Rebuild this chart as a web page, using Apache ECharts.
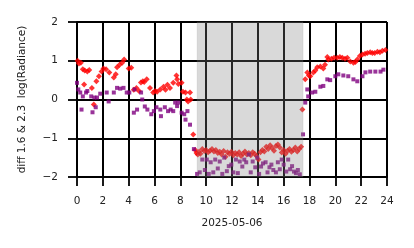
<!DOCTYPE html>
<html><head><meta charset="utf-8">
<script src="https://cdn.jsdelivr.net/npm/echarts@6/dist/echarts.min.js"></script>
<style>html,body{margin:0;padding:0;background:#fff}#c{width:414px;height:248px}</style>
</head><body><div id="c"></div>
<script>
const xTicks = [0,2,4,6,8,10,12,14,16,18,20,22,24];
const yTicks = [-2,-1,0,1,2];
const xLabel = "2025-05-06";
const yLabel = "diff 1.6 & 2.3  log(Radiance)";
const shadeStart = 9.3, shadeEnd = 17.5;

const redHours = [0.05,0.15,0.3,0.45,0.6,0.55,0.8,0.95,1.15,1.3,1.5,1.7,1.9,2.05,2.25,2.5,2.85,3.0,3.1,3.3,3.5,3.65,4.0,4.2,
 4.4,4.6,4.8,4.95,5.1,5.2,5.4,5.65,5.9,6.05,6.2,6.45,6.7,6.85,7.0,7.2,7.45,7.7,7.75,7.85,8.1,8.2,8.4,8.5,8.6,8.75,8.8,9.0,
 9.15,9.25,9.35,9.45,9.55,9.7,9.85,10.0,10.15,10.3,10.45,10.6,10.75,10.9,11.05,11.2,11.35,11.5,11.65,11.8,11.95,12.1,12.25,12.4,12.55,12.7,12.85,13.0,13.15,13.3,13.45,13.6,13.75,13.9,14.05,14.2,14.35,14.5,14.65,14.8,14.95,15.1,15.25,15.4,15.55,15.7,15.85,16.0,16.15,16.3,16.45,16.6,16.75,16.9,17.05,17.2,17.35,
 17.45,17.67,17.83,17.95,18.06,18.3,18.45,18.6,18.84,19.07,19.2,19.38,19.46,19.7,19.9,20.15,20.35,20.54,20.75,20.93,21.16,21.4,21.55,21.7,21.9,22.1,22.3,22.48,22.7,22.87,23.05,23.26,23.45,23.64,23.88];
const redValues = [1.00,0.93,0.95,0.78,0.75,0.39,0.72,0.76,0.30,-0.13,0.47,0.60,0.72,0.80,0.78,0.70,0.57,0.65,0.83,0.90,0.95,1.03,0.80,0.82,
 0.25,0.30,0.22,0.44,0.47,0.45,0.52,0.30,0.18,0.22,0.20,0.26,0.33,0.25,0.38,0.30,0.43,0.62,0.52,0.40,0.43,0.20,0.18,0.00,-0.05,0.18,0.00,-0.90,
 -1.30,-1.38,-1.42,-1.35,-1.40,-1.28,-1.33,-1.30,-1.36,-1.32,-1.28,-1.34,-1.30,-1.38,-1.35,-1.42,-1.33,-1.48,-1.36,-1.40,-1.35,-1.44,-1.38,-1.42,-1.36,-1.46,-1.40,-1.34,-1.42,-1.38,-1.44,-1.36,-1.40,-1.46,-1.55,-1.36,-1.30,-1.34,-1.22,-1.28,-1.18,-1.25,-1.32,-1.20,-1.16,-1.24,-1.37,-1.30,-1.40,-1.32,-1.28,-1.35,-1.30,-1.24,-1.34,-1.28,-1.22,
 -0.26,0.52,0.70,0.62,0.60,0.70,0.75,0.83,0.85,0.80,0.90,1.10,1.03,1.05,1.08,1.08,1.10,1.08,1.05,1.08,0.98,0.95,0.97,1.03,1.12,1.16,1.18,1.20,1.22,1.20,1.20,1.23,1.22,1.26,1.28];

const purpleHours = [0.0,0.1,0.25,0.35,0.45,0.7,0.8,1.1,1.2,1.35,1.45,1.55,1.8,2.3,2.45,2.85,3.1,3.35,3.6,3.85,4.05,4.4,4.45,4.65,4.96,
 5.05,5.25,5.45,5.75,5.95,6.15,6.45,6.5,6.8,7.05,7.25,7.45,7.6,7.75,7.85,8.1,8.3,8.4,8.55,8.75,9.05,
 9.3,9.5,9.7,9.9,10.05,10.2,10.35,10.55,10.7,10.9,11.05,11.25,11.4,11.6,11.75,11.95,12.1,12.3,12.45,12.6,12.8,12.95,13.1,13.3,13.45,13.6,13.8,13.95,14.1,14.25,14.4,14.6,14.75,14.9,15.05,15.2,15.4,15.55,15.7,15.85,16.0,16.2,16.35,16.5,16.65,16.8,16.95,17.1,17.25,
 17.5,17.67,17.83,17.9,18.2,18.45,18.84,19.07,19.38,19.6,20.0,20.23,20.62,21.0,21.4,21.7,22.1,22.33,22.7,23.1,23.5,23.72];
const purpleValues = [0.43,0.26,0.18,-0.26,0.08,0.18,0.22,0.08,-0.33,0.05,-0.20,0.05,0.15,0.18,-0.05,0.18,0.30,0.28,0.30,0.18,0.18,-0.34,0.26,-0.26,0.18,
 0.00,-0.18,-0.26,-0.38,-0.30,-0.20,-0.26,-0.43,-0.20,-0.30,-0.26,-0.30,-0.08,-0.17,-0.08,-0.34,-0.38,-0.52,-0.30,-0.65,-1.28,
 -1.92,-1.88,-1.55,-1.82,-1.55,-1.92,-1.62,-1.88,-1.55,-1.78,-1.60,-1.92,-1.50,-1.85,-1.72,-1.68,-1.88,-1.55,-1.90,-1.60,-1.73,-1.55,-1.62,-1.42,-1.88,-1.60,-1.75,-1.50,-1.92,-1.73,-1.65,-1.62,-1.88,-1.75,-1.68,-1.82,-1.88,-1.62,-1.80,-1.55,-1.68,-1.86,-1.55,-1.80,-1.72,-1.86,-1.90,-1.82,-1.93,
 -0.90,-0.08,0.26,0.08,0.18,0.20,0.33,0.35,0.52,0.50,0.60,0.65,0.62,0.60,0.52,0.47,0.60,0.70,0.72,0.72,0.72,0.77];

const zip = (a,b) => a.map((v,i)=>[v,b[i]]);
const font = 'DejaVu Sans';
const chart = echarts.init(document.getElementById('c'), null, {renderer:'canvas'});
chart.setOption({
  animation:false,
  grid:{left:77,right:27,top:22,bottom:71,containLabel:false},
  xAxis:{type:'value',min:0,max:24,interval:2,
    name:xLabel,nameLocation:'middle',nameGap:41,
    nameTextStyle:{fontFamily:font,fontSize:10.5,color:'#222'},
    axisLine:{show:true,onZero:false,lineStyle:{color:'#000',width:1.8}},
    axisTick:{show:true,inside:false,length:9,lineStyle:{color:'#000',width:1.8}},
    axisLabel:{fontFamily:font,fontSize:10.5,color:'#222',margin:19},
    splitLine:{show:true,lineStyle:{color:'#000',width:2}}},
  yAxis:{type:'value',min:-2,max:2,interval:1,
    name:yLabel,nameLocation:'middle',nameGap:49,nameRotate:90,
    nameTextStyle:{fontFamily:font,fontSize:10.5,color:'#222'},
    axisLine:{show:true,onZero:false,lineStyle:{color:'#000',width:1.8}},
    axisTick:{show:true,inside:false,length:9,lineStyle:{color:'#000',width:1.8}},
    axisLabel:{fontFamily:font,fontSize:10.5,color:'#222',margin:19,formatter:v=>String(v).replace('-','\u2212')},
    splitLine:{show:true,lineStyle:{color:'#000',width:2}}},
  series:[
    {type:'scatter',data:zip(redHours,redValues),symbol:'diamond',symbolSize:6,itemStyle:{color:'#ff0000'},z:2},
    {type:'scatter',data:zip(purpleHours,purpleValues),symbol:'rect',symbolSize:4,itemStyle:{color:'#800080'},z:2},
    {type:'custom',z:10,silent:true,data:[[shadeStart,shadeEnd]],
      renderItem:(params,api)=>{
        const p0 = api.coord([api.value(0), yTicks[yTicks.length-1]]);
        const p1 = api.coord([api.value(1), yTicks[0]]);
        return {type:'rect',shape:{x:p0[0],y:p0[1],width:p1[0]-p0[0],height:p1[1]-p0[1]},
          style:{fill:'rgba(128,128,128,0.3)',stroke:'rgba(128,128,128,0.15)',lineWidth:1}};
      }}
  ]
});
</script></body></html>
